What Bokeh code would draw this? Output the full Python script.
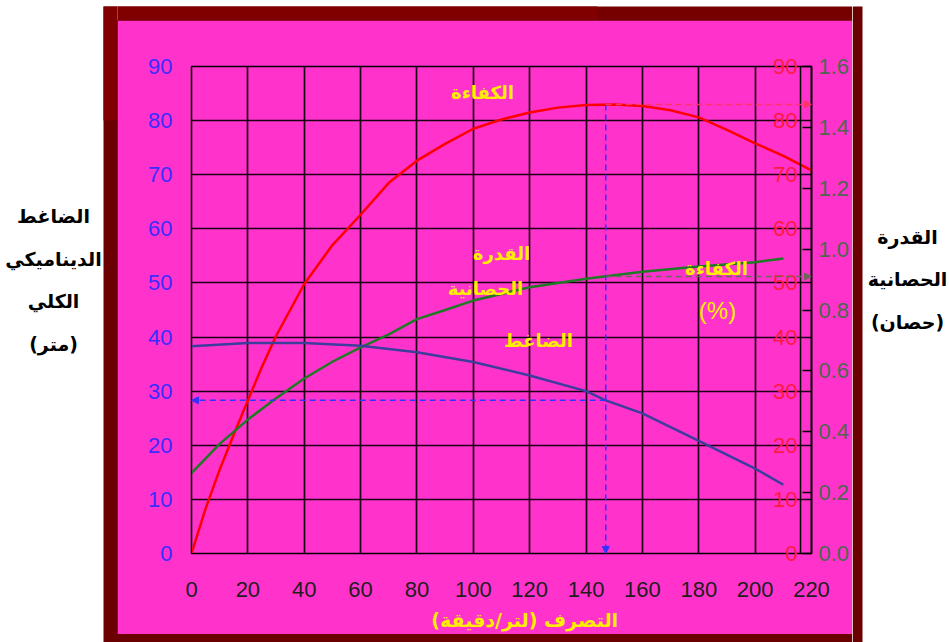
from bokeh.plotting import figure
from bokeh.layouts import row, column
from bokeh.models import (Range1d, LinearAxis, FixedTicker, BoxAnnotation, Label,
                          Arrow, NormalHead, PrintfTickFormatter, Span)
from bokeh.embed import file_html
from bokeh.resources import INLINE

# ---------------- data ----------------
flow_ticks = [0, 20, 40, 60, 80, 100, 120, 140, 160, 180, 200, 220]
head_ticks = [0, 10, 20, 30, 40, 50, 60, 70, 80, 90]
eff_ticks = [0, 10, 20, 30, 40, 50, 60, 70, 80, 90]
power_ticks = [0.0, 0.2, 0.4, 0.6, 0.8, 1.0, 1.2, 1.4, 1.6]

eff_flow = [0, 5, 10, 15, 20, 25, 30, 40, 50, 60, 70, 80, 90, 100, 110, 120,
            130, 140, 150, 160, 170, 180, 190, 200, 210, 220]
eff_pct = [0, 8.3, 15.5, 22.0, 28.3, 34.5, 40.2, 49.8, 57.0, 62.6, 68.5, 72.6,
           75.7, 78.5, 80.2, 81.5, 82.4, 82.9, 83.0, 82.7, 81.9, 80.6, 78.3,
           75.8, 73.5, 70.8]

head_flow = [0, 20, 40, 60, 80, 100, 120, 140, 147, 160, 180, 200, 210]
head_m = [38.3, 38.9, 38.9, 38.4, 37.2, 35.4, 32.9, 30.0, 28.3, 25.9, 20.8, 15.7, 12.7]

power_flow = [0, 10, 20, 30, 40, 50, 60, 70, 80, 90, 100, 120, 140, 160, 180, 200, 210]
power_hp = [0.264, 0.36, 0.44, 0.51, 0.575, 0.63, 0.677, 0.72, 0.77, 0.80, 0.831,
            0.875, 0.903, 0.926, 0.943, 0.957, 0.969]

op_flow, op_head, op_eff, op_power = 147, 28.3, 83.0, 0.91
eff_axis_flow = 216.1          # where the efficiency scale is drawn

y_title_left = ["الضاغط", "الديناميكي", "الكلي", "(متر)"]
y_title_right = ["القدرة", "الحصانية", "(حصان)"]
x_title = "التصرف (لتر/دقيقة)"

# ---------------- style ----------------
MAG = "#ff33cc"
DARK = "#6b0000"
DARK2 = "#800000"
YEL = "#ffee00"
BLUE_T = "#3a2cff"
RED = "#ff0000"
RED_T = "#ff1a40"
GRAY_T = "#4f6650"
HEAD_C = "#3d3d9c"
POW_C = "#1e7a24"
ARABIC = "DejaVu Sans"
NUMF = "Liberation Sans"

TOTAL_W, TOTAL_H = 949, 642
IN_L, IN_R, IN_T, IN_B = 117, 852, 20, 634      # magenta panel (page px)
FRAME = (191, 811, 66, 553)                      # plot frame (page px)
LEFT_AXIS_SIZE = 44                              # approx. width of head axis panel
TOP_WHITE = 6


def deco_fig(w, h, bg):
    f = figure(width=w, height=h, x_range=Range1d(0, w), y_range=Range1d(h, 0),
               output_backend="svg", toolbar_location=None,
               x_axis_type=None, y_axis_type=None, min_border=0,
               background_fill_color=bg, border_fill_color=bg,
               outline_line_color=None, frame_align=False)
    f.grid.visible = False
    return f


def band(f, l, r, t, b, c):
    f.add_layout(BoxAnnotation(left=l, right=r, top=t, bottom=b, fill_color=c,
                               fill_alpha=1, line_color=None, level="image"))


# ---------------- main chart ----------------
mw, mh = IN_R - IN_L, IN_B - IN_T
fl, fr, ft, fb = FRAME[0] - IN_L, FRAME[1] - IN_L, FRAME[2] - IN_T, FRAME[3] - IN_T

p = figure(width=mw, height=mh, x_range=Range1d(0, 220), y_range=Range1d(0, 90),
           output_backend="svg", toolbar_location=None, frame_align=False,
           min_border_left=fl, min_border_right=mw - fr, min_border_top=ft,
           min_border_bottom=mh - fb,
           background_fill_color=MAG, border_fill_color=MAG,
           outline_line_color="black", outline_line_width=1.6)
p.extra_y_ranges = {"power": Range1d(0, 1.6), "eff": Range1d(0, 90)}

# grid
p.xgrid.ticker = FixedTicker(ticks=flow_ticks)
p.ygrid.ticker = FixedTicker(ticks=head_ticks)
for g in (p.xgrid, p.ygrid):
    g.grid_line_color = "#1a0014"
    g.grid_line_width = 1.7
    g.grid_line_alpha = 1

# x axis
xa = p.xaxis[0]
xa.ticker = FixedTicker(ticks=flow_ticks)
xa.major_label_text_font = NUMF
xa.major_label_text_font_size = "22px"
xa.major_label_text_color = "#1e1e1e"
xa.major_label_standoff = 28
xa.major_tick_out = 0
xa.major_tick_in = 0
xa.minor_tick_line_color = None
xa.axis_line_color = "black"
# leading no-break spaces nudge the centred title to the right, as in the source
xa.axis_label = "\u00a0" * 7 + x_title
xa.axis_label_text_font = ARABIC
xa.axis_label_text_font_style = "bold"
xa.axis_label_text_font_size = "19px"
xa.axis_label_text_color = YEL
xa.axis_label_standoff = 9

# left axis (head)
ya = p.yaxis[0]
ya.ticker = FixedTicker(ticks=head_ticks)
ya.major_label_text_font = NUMF
ya.major_label_text_font_size = "22px"
ya.major_label_text_color = BLUE_T
ya.major_label_standoff = 19
ya.major_tick_out = 0
ya.major_tick_in = 0
ya.minor_tick_line_color = None
ya.axis_line_color = "black"

# efficiency scale: labels right-aligned just left of its line near the right edge
eff_label_right = 799
ea = LinearAxis(y_range_name="eff", ticker=FixedTicker(ticks=eff_ticks),
                major_label_text_font=NUMF, major_label_text_font_size="22px",
                major_label_text_color=RED_T,
                major_label_standoff=(FRAME[0] - LEFT_AXIS_SIZE) - eff_label_right,
                major_tick_in=0, major_tick_out=0,
                minor_tick_line_color=None, axis_line_color=None)
p.add_layout(ea, "left")
p.add_layout(Span(location=eff_axis_flow, dimension="height", line_color="black",
                  line_width=1.5))

# power axis (right)
pa = LinearAxis(y_range_name="power", ticker=FixedTicker(ticks=power_ticks),
                formatter=PrintfTickFormatter(format="%.1f"),
                major_label_text_font=NUMF, major_label_text_font_size="22px",
                major_label_text_color=GRAY_T, major_label_standoff=7,
                major_tick_in=9, major_tick_out=0, major_tick_line_width=1.5,
                minor_tick_line_color=None, axis_line_color="black",
                axis_line_width=1.6)
p.add_layout(pa, "right")

# curves
p.line(eff_flow, eff_pct, y_range_name="eff", line_color=RED, line_width=2.5)
p.line(power_flow, power_hp, y_range_name="power", line_color=POW_C, line_width=2.5)
p.line(head_flow, head_m, line_color=HEAD_C, line_width=2.5)


# operating-point dashed guides
def guide(x0, y0, x1, y1, color, rng="default"):
    p.add_layout(Arrow(end=NormalHead(size=7, fill_color=color, line_color=color),
                       x_start=x0, y_start=y0, x_end=x1, y_end=y1,
                       line_color=color, line_width=1.5, line_dash="6 4",
                       y_range_name=rng))


guide(op_flow, op_head, 0, op_head, "#3333ff")
guide(op_flow, op_eff, op_flow, 0, "#3333ff", "eff")
guide(op_flow, op_eff, 220, op_eff, "#ff3366", "eff")
guide(op_flow, op_power, 220, op_power, "#6a6a5a", "power")


def px(xp):  # page pixel -> flow units
    return (xp - FRAME[0]) / (FRAME[1] - FRAME[0]) * 220


def py(yp):  # page pixel -> head units
    return (FRAME[3] - yp) / (FRAME[3] - FRAME[2]) * 90


for (t, xx, yy, sz, st, fnt) in [("الكفاءة", 482, 92, "18px", "bold", ARABIC),
                                 ("القدرة", 501, 253, "18px", "bold", ARABIC),
                                 ("الحصانية", 485, 288, "18px", "bold", ARABIC),
                                 ("الكفاءة", 716, 268, "18px", "bold", ARABIC),
                                 ("(%)", 717, 310, "24px", "normal", NUMF),
                                 ("الضاغط", 538, 340, "18px", "bold", ARABIC)]:
    p.add_layout(Label(x=px(xx), y=py(yy), text=t, text_align="center",
                       text_baseline="middle", text_color=YEL,
                       text_font=fnt, text_font_size=sz, text_font_style=st))

# ---------------- surrounding frame & titles ----------------
left = deco_fig(IN_L, TOTAL_H, "white")
band(left, 103, IN_L, TOP_WHITE, TOTAL_H, DARK)
band(left, 103, IN_L, TOP_WHITE, 120, DARK2)
for t, yy in zip(y_title_left, [215, 258, 300, 343]):
    left.add_layout(Label(x=53, y=yy, text=t, text_align="center",
                          text_baseline="middle", text_color="black",
                          text_font=ARABIC, text_font_size="19px",
                          text_font_style="bold"))

right = deco_fig(TOTAL_W - IN_R, TOTAL_H, "white")
band(right, 0, 862 - IN_R, TOP_WHITE, TOTAL_H, DARK)
for t, yy in zip(y_title_right, [236, 278, 321]):
    right.add_layout(Label(x=907 - IN_R, y=yy, text=t, text_align="center",
                           text_baseline="middle", text_color="black",
                           text_font=ARABIC, text_font_size="19px",
                           text_font_style="bold"))

top = deco_fig(mw, IN_T, "white")
band(top, 0, mw, TOP_WHITE, IN_T, "#760000")
band(top, 0, 480, TOP_WHITE, IN_T, DARK2)

bottom = deco_fig(mw, TOTAL_H - IN_B, DARK)

center = column(top, p, bottom, spacing=0,
                styles={"background": "linear-gradient(to bottom, #ffffff 0px, "
                                      "#ffffff %dpx, %s %dpx, %s 100%%)"
                                      % (TOP_WHITE, DARK, TOP_WHITE, DARK)})
layout = row(left, center, right, spacing=0)

open("out.html", "w", encoding="utf-8").write(file_html(layout, INLINE))
